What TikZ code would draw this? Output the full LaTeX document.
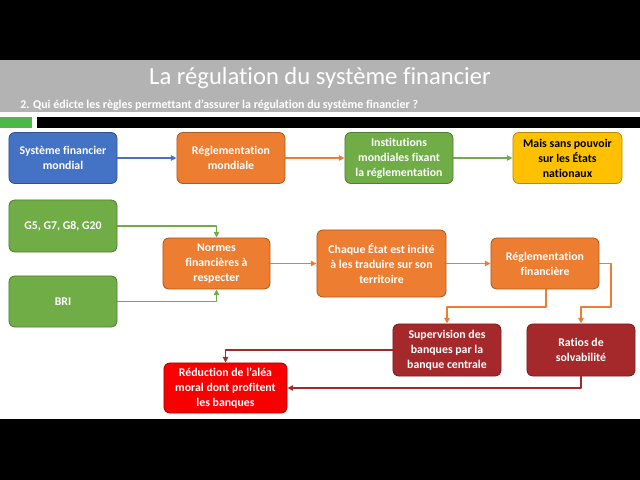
\documentclass[tikz,border=0pt]{standalone}
\usepackage{fontspec}
\setmainfont{Carlito}[Ligatures=NoCommon]
\usetikzlibrary{arrows.meta,positioning}
\definecolor{cblue}{HTML}{4472C4}
\definecolor{cbluedk}{HTML}{2F528F}
\definecolor{corange}{HTML}{ED7D31}
\definecolor{corangedk}{HTML}{AE5A21}
\definecolor{cgreen}{HTML}{70AD47}
\definecolor{cgreendk}{HTML}{507E32}
\definecolor{cgold}{HTML}{FFC000}
\definecolor{cgolddk}{HTML}{BC8C00}
\definecolor{cbrick}{HTML}{A5292B}
\definecolor{cbrickdk}{HTML}{7A1E20}
\definecolor{cred}{HTML}{F80000}
\definecolor{creddk}{HTML}{B00000}
\definecolor{headgrey}{HTML}{B3B3B3}
\definecolor{bargreen}{HTML}{4DB848}

\begin{document}
\begin{tikzpicture}[x=0.025cm,y=-0.025cm,line join=round,
  box/.style={draw,line width=0.6pt,rounded corners=0.15cm,minimum width=2.7cm,
    minimum height=1.275cm,inner sep=1pt,align=center,text=white,
    font=\fontsize{8.4}{10.7}\selectfont\bfseries},
  link/.style={line width=1.05pt,-{Triangle[length=1.4mm,width=1.3mm]}}]
  \useasboundingbox (0,0) rectangle (640,480);
  % bandeau du haut
  \fill[black] (0,0) rectangle (640,60);
  \fill[headgrey] (0,60) rectangle (640,112);
  \fill[bargreen] (0,117) rectangle (32,128);
  \fill[black] (37,117) rectangle (640,128);
  \fill[black] (0,419) rectangle (640,480);
  \node[anchor=base,inner sep=0pt,text=white,font=\fontsize{17.5}{20}\selectfont] (titre) at (320,84)
    {La régulation du système financier};
  \node[anchor=base west,inner sep=0pt,text=white,font=\fontsize{8.5}{10}\selectfont\bfseries] (question) at (20,108)
    {2. Qui édicte les règles permettant d’assurer la régulation du système financier ?};
  % premiere ligne
  \node[box,fill=cblue,draw=cbluedk] (sysmond) at (63,158) {Système financier\\mondial};
  \node[box,fill=corange,draw=corangedk] (reglmond) at (231,158) {Réglementation\\mondiale};
  \node[box,fill=cgreen,draw=cgreendk] (instit) at (399,158) {Institutions\\mondiales fixant\\la réglementation};
  \node[box,fill=cgold,draw=cgolddk,text=black,minimum width=2.725cm] (mais) at (567.5,158) {Mais sans pouvoir\\sur les États\\nationaux};
  % deuxieme ligne
  \node[box,fill=cgreen,draw=cgreendk,minimum height=1.3cm] (groupes) at (63,226) {G5, G7, G8, G20};
  \node[box,fill=cgreen,draw=cgreendk] (bri) at (63,301.5) {BRI};
  \node[box,fill=corange,draw=corangedk,minimum width=2.675cm] (normes) at (216.5,263.5) {Normes\\financières à\\respecter};
  \node[box,fill=corange,draw=corangedk,minimum width=3.225cm,minimum height=1.675cm] (chaque) at (381.5,263.5)
    {Chaque État est incité\\à les traduire sur son\\territoire};
  \node[box,fill=corange,draw=corangedk] (reglfin) at (545,263.5) {Réglementation\\financière};
  % troisieme ligne
  \node[box,fill=cbrick,draw=cbrickdk,minimum height=1.3cm] (superv) at (447,350) {Supervision des\\banques par la\\banque centrale};
  \node[box,fill=cbrick,draw=cbrickdk,minimum height=1.3cm] (ratios) at (581,350) {Ratios de\\solvabilité};
  \node[box,fill=cred,draw=creddk,minimum width=3.075cm,minimum height=1.25cm] (alea) at (225.5,388)
    {Réduction de l’aléa\\moral dont profitent\\les banques};
  \coordinate (coude1) at (546,307);
  \coordinate (coude2) at (611,307);
  % liaisons
  \draw[link,cblue] (sysmond) -- (reglmond);
  \draw[link,corange] (reglmond) -- (instit);
  \draw[link,cgreen] (instit) -- (mais);
  \draw[link,cgreen] (groupes) -| (normes);
  \draw[link,cgreen] (bri) -| (normes);
  \draw[link,corange] (normes) -- (chaque);
  \draw[link,corange] (chaque) -- (reglfin);
  \draw[link,corange] (reglfin.south -| coude1) -- (coude1) -| (superv);
  \draw[link,corange] (reglfin) -| (coude2) -| (ratios);
  \draw[link,cbrick] (superv) -| (alea);
  \draw[link,cbrick] (ratios) |- (alea);
\end{tikzpicture}
\end{document}
